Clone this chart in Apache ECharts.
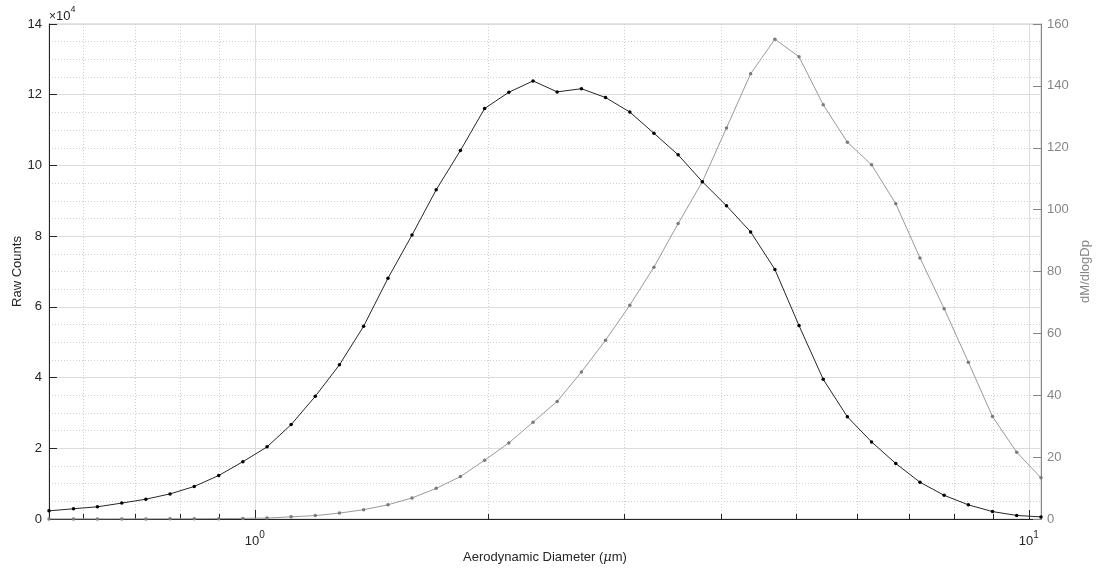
<!DOCTYPE html>
<html>
<head>
<meta charset="utf-8">
<script src="https://cdn.jsdelivr.net/npm/echarts@6/dist/echarts.min.js"></script>
<style>
  html, body { margin: 0; padding: 0; background: #fff; }
  #chart { width: 1097px; height: 569px; }
</style>
</head>
<body>
<div id="chart"></div>
<script>
// APS channel midpoint diameters (µm)
const diameters = [
  0.542, 0.583, 0.626, 0.673, 0.723, 0.777, 0.835, 0.898, 0.965, 1.037,
  1.114, 1.197, 1.286, 1.382, 1.486, 1.596, 1.715, 1.843, 1.981, 2.129,
  2.288, 2.458, 2.642, 2.839, 3.051, 3.278, 3.523, 3.786, 4.068, 4.371,
  4.698, 5.048, 5.425, 5.829, 6.264, 6.732, 7.234, 7.774, 8.354, 8.977,
  9.647, 10.37
];

// Raw particle counts per channel
const rawCounts = [
  2300, 2900, 3450, 4500, 5600, 7100, 9200, 12300, 16200, 20400,
  26700, 34700, 43600, 54500, 68100, 80300, 93100, 104200, 116100, 120700,
  123900, 120800, 121700, 119200, 115100, 109100, 103000, 95400, 88600, 81200,
  70600, 54700, 39500, 28900, 21800, 15700, 10400, 6700, 4000, 2100,
  1000, 600
];

// Mass size distribution dM/dlogDp per channel
const massDist = [
  0.0, 0.01, 0.01, 0.02, 0.03, 0.05, 0.07, 0.12, 0.2, 0.3,
  0.7, 1.1, 1.9, 3.0, 4.6, 6.8, 9.9, 13.7, 19.0, 24.6,
  31.3, 38.0, 47.5, 57.8, 69.1, 81.4, 95.5, 109.0, 126.4, 143.9,
  155.1, 149.4, 133.9, 121.8, 114.5, 101.9, 84.4, 68.0, 50.7, 33.1,
  21.6, 13.3
];

// Axis tick positions
const xMajorTicks = [1, 10];
const xMinorTicks = [0.6, 0.7, 0.8, 0.9, 2, 3, 4, 5, 6, 7, 8, 9];

const AXIS = '#262626';
const GRAY = '#858585';
const FONT = '"Liberation Sans", Arial, Helvetica, sans-serif';

const chart = echarts.init(document.getElementById('chart'), null, { renderer: 'canvas' });

const xCommon = {
  type: 'log',
  logBase: 10,
  min: 0.542,
  max: 10.37,
  position: 'bottom'
};

chart.setOption({
  animation: false,
  textStyle: { fontFamily: FONT },
  grid: {
    left: 49, right: 56, top: 24, bottom: 50,
    outerBoundsMode: 'none',
    containLabel: false,
    show: true, borderColor: '#c8c8c8', borderWidth: 1, backgroundColor: 'transparent'
  },
  graphic: [{
    type: 'text',
    left: 49,
    top: 5,
    style: {
      text: '{x|×}{b|10}{s|4}',
      fill: AXIS,
      font: '13px ' + FONT,
      rich: {
        x: { fontSize: 12, fill: AXIS, fontFamily: FONT, verticalAlign: 'bottom' },
        b: { fontSize: 13, fill: AXIS, fontFamily: FONT, verticalAlign: 'bottom' },
        s: { fontSize: 9, fill: AXIS, fontFamily: FONT, verticalAlign: 'top', padding: [0, 0, 9, 0] }
      }
    }
  }],
  xAxis: [
    Object.assign({}, xCommon, {
      name: 'Aerodynamic Diameter ({i|μ}m)',
      nameLocation: 'middle',
      nameGap: 32,
      nameMoveOverlap: false,
      nameTextStyle: {
        fontSize: 13, color: AXIS, fontFamily: FONT,
        rich: { i: { fontSize: 13, fontStyle: 'italic', color: AXIS, fontFamily: 'DejaVu Serif' } }
      },
      axisLine: { show: true, lineStyle: { color: AXIS, width: 1 } },
      axisTick: { show: true, inside: true, length: 9, customValues: xMajorTicks, lineStyle: { color: AXIS } },
      axisLabel: {
        customValues: xMajorTicks,
        margin: 9,
        formatter: function (v) { return '{b|10}{s|' + Math.round(Math.log10(v)) + '}'; },
        rich: {
          b: { fontSize: 13, color: AXIS, fontFamily: FONT, padding: [7, 0, 0, 0] },
          s: { fontSize: 10, color: AXIS, fontFamily: FONT, padding: [0, 0, 6, 0] }
        }
      },
      splitLine: { show: true, lineStyle: { color: '#dcdcdc', width: 1 } }
    }),
    Object.assign({}, xCommon, {
      axisLine: { show: false },
      axisTick: { show: true, inside: true, length: 5, customValues: xMinorTicks, lineStyle: { color: AXIS } },
      axisLabel: { show: false, customValues: xMinorTicks },
      splitLine: { show: true, lineStyle: { color: '#cfcfcf', width: 1, type: [1, 2] } }
    })
  ],
  yAxis: [
    {
      type: 'value',
      position: 'left',
      min: 0,
      max: 140000,
      interval: 20000,
      name: 'Raw Counts',
      nameLocation: 'middle',
      nameGap: 25,
      nameRotate: 90,
      nameMoveOverlap: false,
      nameTextStyle: { fontSize: 13, color: AXIS, fontFamily: FONT },
      axisLine: { show: true, lineStyle: { color: AXIS, width: 1 } },
      axisTick: { show: true, inside: true, length: 8, lineStyle: { color: AXIS } },
      axisLabel: {
        color: AXIS, fontSize: 13, margin: 7,
        formatter: function (v) { return String(v / 10000); }
      },
      splitLine: { show: true, lineStyle: { color: '#dcdcdc', width: 1 } },
      minorTick: { show: false, splitNumber: 4 },
      minorSplitLine: { show: true, lineStyle: { color: '#cfcfcf', width: 1, type: [1, 2] } }
    },
    {
      type: 'value',
      position: 'right',
      min: 0,
      max: 160,
      interval: 20,
      name: 'dM/dlogDp',
      nameLocation: 'middle',
      nameGap: 38,
      nameRotate: 90,
      nameMoveOverlap: false,
      nameTextStyle: { fontSize: 13, color: GRAY, fontFamily: FONT },
      axisLine: { show: true, lineStyle: { color: GRAY, width: 1 } },
      axisTick: { show: true, inside: true, length: 8, lineStyle: { color: GRAY } },
      axisLabel: { color: GRAY, fontSize: 13, margin: 6 },
      splitLine: { show: false }
    }
  ],
  series: [
    {
      name: 'dM/dlogDp',
      type: 'line',
      xAxisIndex: 0,
      yAxisIndex: 1,
      data: diameters.map(function (d, i) { return [d, massDist[i]]; }),
      symbol: 'circle',
      symbolSize: 3.5,
      showAllSymbol: true,
      lineStyle: { color: '#9a9a9a', width: 1 },
      itemStyle: { color: '#7a7a7a' },
      z: 3
    },
    {
      name: 'Raw Counts',
      type: 'line',
      xAxisIndex: 0,
      yAxisIndex: 0,
      data: diameters.map(function (d, i) { return [d, rawCounts[i]]; }),
      symbol: 'circle',
      symbolSize: 3.5,
      showAllSymbol: true,
      lineStyle: { color: '#262626', width: 1 },
      itemStyle: { color: '#000000' },
      z: 4
    }
  ]
});
</script>
</body>
</html>
